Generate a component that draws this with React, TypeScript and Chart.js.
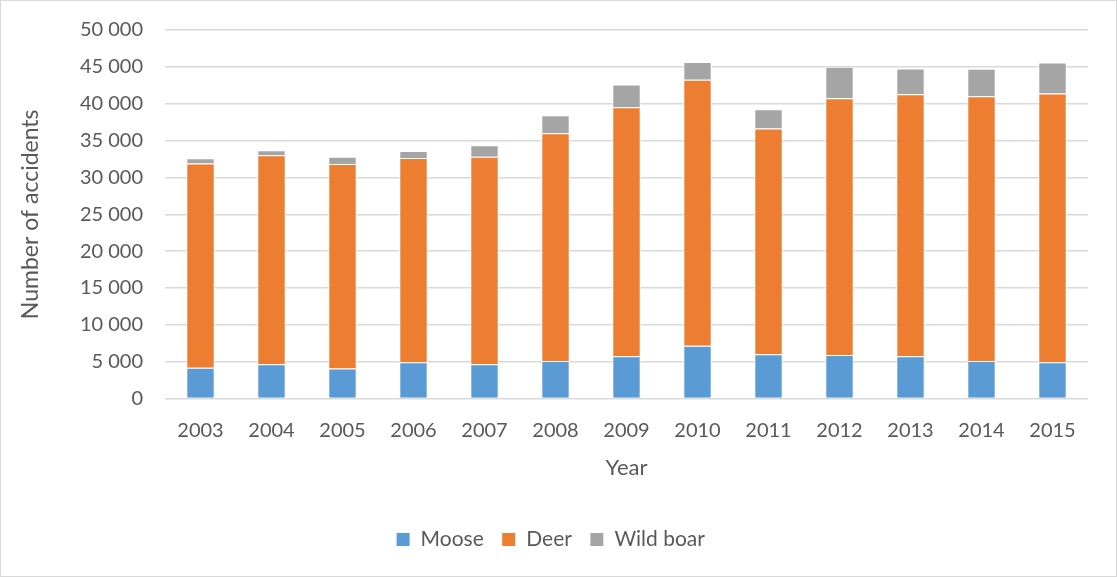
import React, { useEffect, useRef } from "react";
import { Chart, registerables } from "chart.js";

Chart.register(...registerables);

const years = ["2003", "2004", "2005", "2006", "2007", "2008", "2009", "2010", "2011", "2012", "2013", "2014", "2015"];
const moose = [4200, 4650, 4070, 4930, 4660, 5110, 5750, 7180, 6020, 5920, 5750, 5110, 4930];
const deer = [27700, 28350, 27770, 27720, 28130, 30870, 33760, 36060, 30610, 34810, 35520, 35890, 36470];
const wildBoar = [710, 680, 950, 950, 1580, 2450, 3110, 2430, 2610, 4270, 3510, 3730, 4190];

const FONT = "Lato, 'Open Sans', sans-serif";
const TEXT = "#595959";

export default function App() {
  const ref = useRef<HTMLCanvasElement | null>(null);

  useEffect(() => {
    document.body.style.margin = "0";
    const ctx = ref.current!;
    const chart = new Chart(ctx, {
      type: "bar",
      data: {
        labels: years,
        datasets: [
          { label: "Moose", data: moose, backgroundColor: "#5b9bd5", borderColor: "#ffffff", borderWidth: 1 },
          { label: "Deer", data: deer, backgroundColor: "#ed7d31", borderColor: "#ffffff", borderWidth: 1 },
          { label: "Wild boar", data: wildBoar, backgroundColor: "#a5a5a5", borderColor: "#ffffff", borderWidth: 1 },
        ],
      },
      options: {
        responsive: false,
        animation: false,
        maintainAspectRatio: false,
        layout: { padding: { left: 12, right: 28, top: 29, bottom: 16 } },
        datasets: { bar: { categoryPercentage: 1, barPercentage: 0.4 } },
        plugins: {
          legend: {
            position: "bottom",
            labels: {
              color: TEXT,
              font: { family: FONT, size: 21 },
              boxWidth: 14,
              boxHeight: 14,
              padding: 18,
            },
          },
          tooltip: { enabled: false },
        },
        scales: {
          x: {
            stacked: true,
            grid: { display: false, drawTicks: false },
            border: { display: false },
            ticks: { color: TEXT, font: { family: FONT, size: 20 }, padding: 20, maxRotation: 0 },
            title: { display: true, text: "Year", color: TEXT, font: { family: FONT, size: 22 }, padding: { top: -8, bottom: 30 } },
          },
          y: {
            stacked: true,
            min: 0,
            max: 50000,
            afterFit: (s: any) => {
              s.width = 152;
              s.paddingTop = 0;
              s.paddingBottom = 0;
            },
            grid: { color: "#d9d9d9", lineWidth: 1.5, drawTicks: false },
            border: { display: false },
            ticks: {
              stepSize: 5000,
              color: TEXT,
              font: { family: FONT, size: 20 },
              padding: 22,
              callback: (v: any) => Number(v).toLocaleString("en-US").replace(/,/g, " "),
            },
            title: { display: true, text: "Number of accidents", color: TEXT, font: { family: FONT, size: 23 }, padding: { bottom: 4 } },
          },
        },
      },
    });
    return () => chart.destroy();
  }, []);

  return (
    <div
      style={{
        position: "absolute",
        left: 0,
        top: 0,
        width: 1117,
        height: 577,
        boxSizing: "border-box",
        border: "1px solid #d9d9d9",
        background: "#fff",
      }}
    >
      <canvas ref={ref} width={1115} height={575} style={{ display: "block" }} />
    </div>
  );
}
